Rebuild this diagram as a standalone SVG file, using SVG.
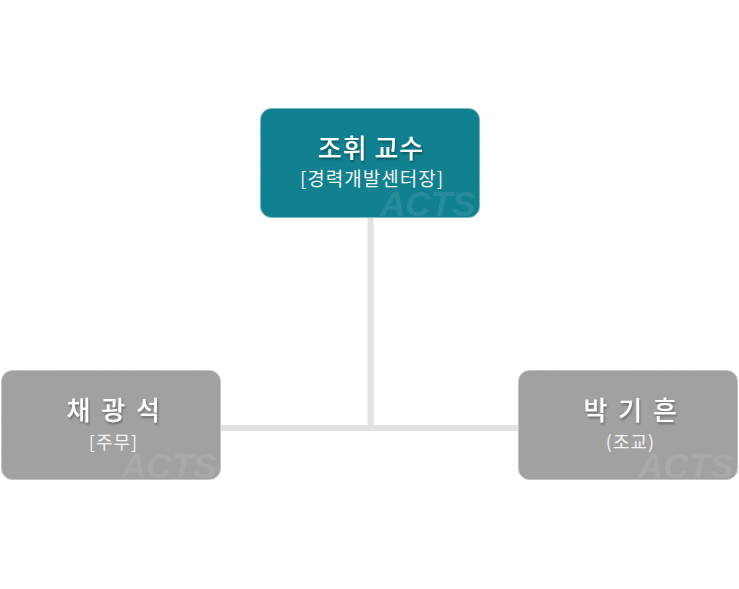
<svg xmlns="http://www.w3.org/2000/svg" width="739" height="589" viewBox="0 0 739 589">
<style>
text{font-family:"Noto Sans CJK KR","Noto Sans",sans-serif;text-anchor:middle}
.name{font-size:26px;font-weight:500;fill:#fff;filter:url(#sh)}
.sub{font-size:18px;fill:#f4f4f4;letter-spacing:1px}
.wm{font-family:"Liberation Sans",sans-serif;font-size:35px;font-weight:bold;font-style:italic;fill:#fff;fill-opacity:.1;text-anchor:start}
.teal{fill:#0e7f8e;stroke:#7db9c2;stroke-width:1}
.gray{fill:#a0a0a0;stroke:#c4c4c4;stroke-width:1}
.line{stroke:#e2e2e2;stroke-width:6;fill:none}
.hatch{fill:url(#h)}
</style>
<defs>
<filter id="sh" x="-20%" y="-30%" width="140%" height="170%"><feDropShadow dx="1" dy="2" stdDeviation="1.2" flood-color="#000" flood-opacity=".35"/></filter>
<pattern id="h" width="3" height="3" patternUnits="userSpaceOnUse" patternTransform="rotate(-45)"><rect width="3" height="1" fill="#fff" fill-opacity=".03"/></pattern>
</defs>
<rect width="739" height="589" fill="#fff"/>
<g id="connectors">
<path class="line" d="M370.500 217V428M220 428H519"/>
</g>
<g id="node-top">
<rect class="teal" x="260.500" y="108.500" width="219" height="109" rx="11"/>
<rect class="hatch" x="261" y="109" width="218" height="108" rx="11"/>
<text class="wm" x="380" y="216">ACTS</text>
<text class="name" x="371" y="158" letter-spacing="1">조휘 교수</text>
<text class="sub" x="372" y="186" style="font-size:19px">[경력개발센터장]</text>
</g>
<g id="node-left">
<rect class="gray" x="1.500" y="370.500" width="219" height="109" rx="11"/>
<rect class="hatch" x="2" y="371" width="218" height="108" rx="11"/>
<text class="wm" x="121" y="478">ACTS</text>
<text class="name" x="114.500" y="420" letter-spacing="2.500">채 광 석</text>
<text class="sub" x="113.500" y="449">[주무]</text>
</g>
<g id="node-right">
<rect class="gray" x="518.500" y="370.500" width="219" height="109" rx="11"/>
<rect class="hatch" x="519" y="371" width="218" height="108" rx="11"/>
<text class="wm" x="638" y="478">ACTS</text>
<text class="name" x="631.500" y="420" letter-spacing="2.500">박 기 흔</text>
<text class="sub" x="630.500" y="449">(조교)</text>
</g>
</svg>
